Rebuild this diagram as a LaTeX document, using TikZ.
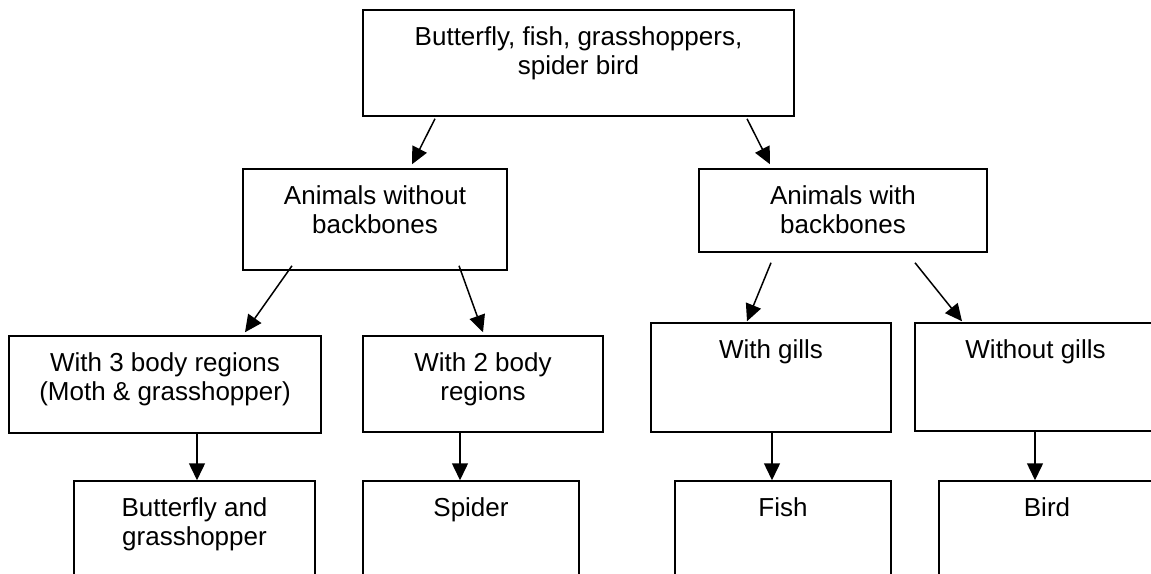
\documentclass[tikz,border=0pt]{standalone}
\usepackage{fontspec}
\setmainfont{Liberation Sans}
\usetikzlibrary{arrows.meta, positioning, calc, fit}

\begin{document}
\begin{tikzpicture}[
    x=0.5pt, y=-0.5pt,
    box/.style={draw, line width=0.75pt, inner sep=0pt},
    txt/.style={font=\fontsize{13}{14.5}\selectfont, align=center, inner sep=0pt},
    arr/.style={-{Triangle[length=8.5pt, width=8pt]}, line width=0.75pt}
]

\useasboundingbox (0,0) rectangle (1151,573);
\clip (0,0) rectangle (1151,573);

% boxes
\node[box, fit={(363,10) (794,116)}]   (root)    {};
\node[box, fit={(243,169) (507,270)}]  (nobb)    {};
\node[box, fit={(699,169) (987,252)}]  (bb)      {};
\node[box, fit={(9,336) (321,433)}]    (three)   {};
\node[box, fit={(363,336) (603,432)}]  (two)     {};
\node[box, fit={(651,323) (891,432)}]  (gills)   {};
\node[box, fit={(915,323) (1156,431)}] (nogills) {};
\node[box, fit={(74,481) (315,600)}]   (butgr)   {};
\node[box, fit={(363,481) (579,600)}]  (spider)  {};
\node[box, fit={(675,481) (891,600)}]  (fish)    {};
\node[box, fit={(939,481) (1155,600)}] (bird)    {};

% texts
\node[txt, below=8.3pt of root.north]    (rootT)    {Butterfly, fish, grasshoppers,\\spider bird};
\node[txt, below=8.3pt of nobb.north]    (nobbT)    {Animals without\\backbones};
\node[txt, below=8.3pt of bb.north]      (bbT)      {Animals with\\backbones};
\node[txt, below=8.3pt of three.north]   (threeT)   {With 3 body regions\\(Moth \& grasshopper)};
\node[txt, below=8.3pt of two.north]     (twoT)     {With 2 body\\regions};
\node[txt, below=8.3pt of gills.north]   (gillsT)   {With gills};
\node[txt, below=8.3pt of nogills.north] (nogillsT) {Without gills};
\node[txt, below=8.3pt of butgr.north]   (butgrT)   {Butterfly and\\grasshopper};
\node[txt, below=8.3pt of spider.north]  (spiderT)  {Spider};
\node[txt, below=8.3pt of fish.north]    (fishT)    {Fish};
\node[txt, below=8.3pt of bird.north]    (birdT)    {Bird};

% arrows
\draw[arr] ($(root.south -| 435,0)+(0,2)$)  -- ($(nobb.north -| 412,0)+(0,-4)$);
\draw[arr] ($(root.south -| 747,0)+(0,2)$)  -- ($(bb.north -| 770,0)+(0,-4)$);
\draw[arr] ($(nobb.south -| 292,0)+(0,-5)$) -- ($(three.north -| 245,0)+(0,-3)$);
\draw[arr] ($(nobb.south -| 459,0)+(0,-5)$) -- ($(two.north -| 483,0)+(0,-3)$);
\draw[arr] ($(bb.south -| 771,0)+(0,10)$)   -- ($(gills.north -| 747,0)+(0,-1)$);
\draw[arr] ($(bb.south -| 915,0)+(0,10)$)   -- ($(nogills.north -| 962,0)+(0,-1)$);
\draw[arr] (three.south -| 197,0)   -- (butgr.north -| 197,0);
\draw[arr] (two.south -| 460,0)     -- (spider.north -| 460,0);
\draw[arr] (gills.south -| 772,0)   -- (fish.north -| 772,0);
\draw[arr] (nogills.south -| 1035,0) -- (bird.north -| 1035,0);

\end{tikzpicture}
\end{document}
